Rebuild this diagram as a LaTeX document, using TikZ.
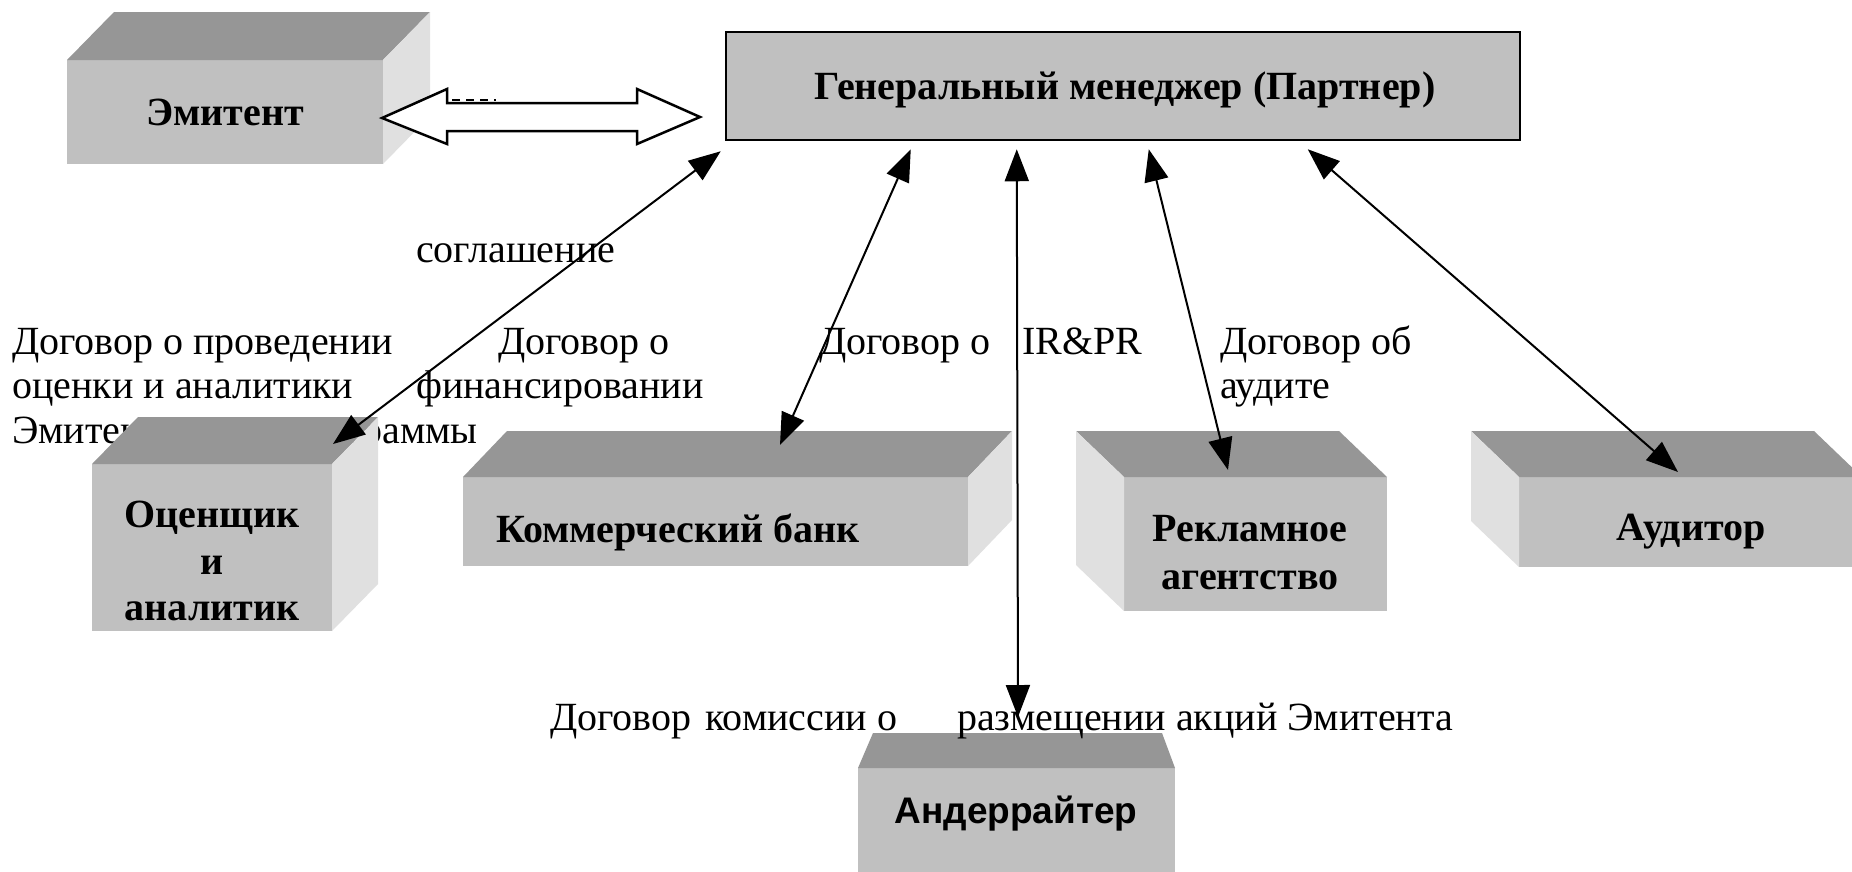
\documentclass[tikz,border=0pt]{standalone}
\usepackage{fontspec}
\setmainfont{Liberation Serif}
\newfontfamily\sansfnt{Liberation Sans}
\usetikzlibrary{arrows.meta,calc}
\definecolor{frontgray}{HTML}{C0C0C0}
\definecolor{topgray}{HTML}{969696}
\definecolor{sidegray}{HTML}{E0E0E0}
\begin{document}
\begin{tikzpicture}[x=1pt,y=-1pt,
  frontbox/.style={rectangle, fill=frontgray, draw=none, inner sep=0pt, outer sep=0pt},
  topface/.style={fill=topgray},
  sideface/.style={fill=sidegray},
  lbl/.style={inner sep=0pt, font=\fontsize{40}{46}\selectfont},
  boxtxt/.style={anchor=base, inner sep=0pt, font=\fontsize{40}{46}\selectfont\bfseries},
  conn/.style={line width=2pt, {Triangle[length=32pt,width=24pt]}-{Triangle[length=32pt,width=24pt]}},
  blockarrow/.style={fill=white, draw=black, line width=2.5pt, line join=miter}
]
\useasboundingbox (0,0) rectangle (1852,871);
\fill[white] (0,0) rectangle (1852,871);

% ---------- labels ----------
\node[lbl, anchor=base west] (lsogl) at (416,262) {соглашение};
\node[lbl, anchor=base west] (lL1) at (12,354) {Договор о проведении};
\node[lbl, anchor=base west] (lL2) at (12,398) {оценки и аналитики};
\node[lbl, anchor=base west] (lL3) at (12,443) {Эмитента};
\node[lbl, anchor=base west] (lF1) at (498,354) {Договор о};
\node[lbl, anchor=base west] (lF2) at (416,398) {финансировании};
\node[lbl, anchor=base east] (lF3) at (478,443) {программы};
\node[lbl, anchor=base west] (lB1) at (819,354) {Договор о};
\node[lbl, anchor=base west] (lIR) at (1022,354) {IR\&PR};
\node[lbl, anchor=base west] (lA1) at (1220,354) {Договор об};
\node[lbl, anchor=base west] (lA2) at (1220,398) {аудите};

% ---------- Эмитент ----------
\node[frontbox, minimum width=316pt, minimum height=104pt] (emit) at (225,112) {};
\fill[topface] (emit.north west) -- (emit.north east) -- ++(47,-48) -- ($(emit.north west)+(47,-48)$) -- cycle;
\fill[sideface] (emit.north east) -- ++(47,-48) -- ++(0,104) -- (emit.south east) -- cycle;
\node[boxtxt] (temit) at (225,125) {Эмитент};

% ---------- Генеральный менеджер ----------
\node[rectangle, fill=frontgray, draw=black, line width=2.5pt, minimum width=794pt, minimum height=108pt, inner sep=0pt] (gm) at (1123,86) {};
\node[boxtxt] (tgm) at (1125,99) {Генеральный менеджер (Партнер)};

% ---------- Оценщик ----------
\node[frontbox, minimum width=240pt, minimum height=167pt] (ocen) at (212,547.5) {};
\fill[topface] (ocen.north west) -- (ocen.north east) -- ++(46,-47) -- ($(ocen.north west)+(46,-47)$) -- cycle;
\fill[sideface] (ocen.north east) -- ++(46,-47) -- ++(0,167) -- (ocen.south east) -- cycle;
\node[boxtxt] (toc1) at (212,527) {Оценщик};
\node[boxtxt] (toc2) at (212,574) {и};
\node[boxtxt] (toc3) at (212,620) {аналитик};

% ---------- Коммерческий банк ----------
\node[frontbox, minimum width=505pt, minimum height=89pt] (bank) at (715.5,521.5) {};
\fill[topface] (bank.north west) -- (bank.north east) -- ++(44,-46) -- ($(bank.north west)+(44,-46)$) -- cycle;
\fill[sideface] (bank.north east) -- ++(44,-46) -- ++(0,89) -- (bank.south east) -- cycle;
\node[boxtxt] (tbank) at (678,542) {Коммерческий банк};

% ---------- Рекламное агентство ----------
\node[frontbox, minimum width=263pt, minimum height=134pt] (rekl) at (1255.5,544) {};
\fill[topface] (rekl.north west) -- (rekl.north east) -- ++(-48,-46) -- ($(rekl.north west)+(-48,-46)$) -- cycle;
\fill[sideface] (rekl.north west) -- ++(-48,-46) -- ++(0,134) -- (rekl.south west) -- cycle;
\node[boxtxt] (trek1) at (1250,541) {Рекламное};
\node[boxtxt] (trek2) at (1250,589) {агентство};

% ---------- Аудитор ----------
\node[frontbox, minimum width=343pt, minimum height=90pt] (audit) at (1690.5,522) {};
\fill[topface] (audit.north west) -- (audit.north east) -- ++(-48,-46) -- ($(audit.north west)+(-48,-46)$) -- cycle;
\fill[sideface] (audit.north west) -- ++(-48,-46) -- ++(0,90) -- (audit.south west) -- cycle;
\node[boxtxt] (taud) at (1691,540) {Аудитор};

% ---------- Андеррайтер ----------
\node[frontbox, minimum width=317pt, minimum height=112pt] (under) at (1016.5,824) {};
\fill[topface] (under.north west) -- (under.north east) -- ++(-13,-35) -- ($(under.north west)+(15,-35)$) -- cycle;
\node[anchor=base, inner sep=0pt, font=\fontsize{37}{42}\sansfnt\bfseries] (tund) at (1016,823) {Андеррайтер};

\node[lbl, anchor=base west] (lbot) at (550,730) {Договор\hspace{14pt}комиссии о\hspace{60pt}размещении акций Эмитента};

% ---------- block arrow ----------
\draw[blockarrow] (382,118) -- (447,89) -- (447,103) -- (637,103) -- (637,89) -- (700,117)
  -- (637,144) -- (637,131) -- (447,131) -- (447,144) -- cycle;
\draw[line width=2.5pt, dash pattern=on 8pt off 6pt] (452,100) -- (496,100);

% ---------- connectors ----------
\coordinate (g1) at ($(gm.south west)+(-4,10)$);
\coordinate (g2) at ($(gm.south west)+(186,8)$);
\coordinate (g3) at ($(gm.south west)+(292,8)$);
\coordinate (g4) at ($(gm.south west)+(424,8)$);
\coordinate (g5) at ($(gm.south west)+(583,8)$);
\coordinate (o1) at ($(ocen.north east)+(1,-20)$);
\coordinate (b1) at ($(bank.north west)+(317,-32)$);
\coordinate (u1) at ($(under.north)+(1.5,-51)$);
\coordinate (r1) at ($(rekl.north west)+(104,-7)$);
\coordinate (a1) at ($(audit.north west)+(159,-5)$);
\draw[conn] (g1) -- (o1);
\draw[conn] (g2) -- (b1);
\draw[conn] (g3) -- (u1);
\draw[conn] (g4) -- (r1);
\draw[conn] (g5) -- (a1);
\end{tikzpicture}
\end{document}
